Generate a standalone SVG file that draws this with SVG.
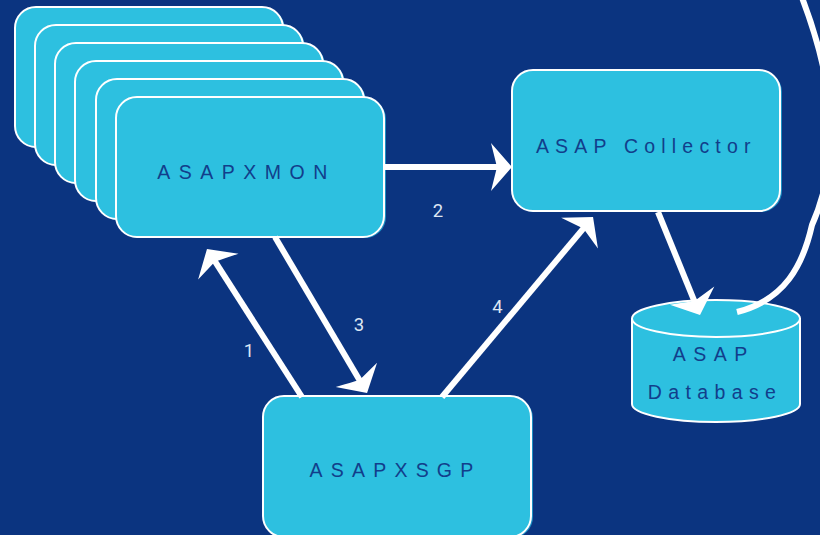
<svg xmlns="http://www.w3.org/2000/svg" width="820" height="535" viewBox="0 0 820 535">
  <defs>
    <style>
      .box { fill: #2dc0e0; stroke: #ffffff; stroke-width: 2; }
      .edge { fill: #1b8fc4; }
      .label { font-family: "Liberation Sans", Arial, sans-serif; font-size: 19.5px; fill: #123e8b; text-anchor: middle; }
      .num { font-family: Roboto, "Liberation Sans", sans-serif; font-size: 18.5px; fill: #dde6f3; text-anchor: middle; }
      .conn { fill: none; stroke: #ffffff; stroke-width: 6; stroke-linecap: butt; }
    </style>
    <marker id="head" markerUnits="userSpaceOnUse" viewBox="-16 -26 26 52" refX="0" refY="0" markerWidth="26" markerHeight="52" orient="auto">
      <path d="M8,0 L-13,-24 Q-9,-8 -7,0 Q-9,8 -13,24 Z" fill="#ffffff"/>
    </marker>
  </defs>

  <rect x="0" y="0" width="820" height="535" fill="#0b3480"/>

  <!-- stacked monitor processes -->
  <g id="asapxmon">
    <rect class="edge" x="17" y="8" width="268" height="140" rx="21"/>
    <rect class="box" x="15" y="7" width="268" height="140" rx="21"/>
    <rect class="edge" x="37" y="26" width="268" height="140" rx="21"/>
    <rect class="box" x="35" y="25" width="268" height="140" rx="21"/>
    <rect class="edge" x="57" y="44" width="268" height="140" rx="21"/>
    <rect class="box" x="55" y="43" width="268" height="140" rx="21"/>
    <rect class="edge" x="77" y="62" width="268" height="140" rx="21"/>
    <rect class="box" x="75" y="61" width="268" height="140" rx="21"/>
    <rect class="edge" x="98" y="80" width="268" height="140" rx="21"/>
    <rect class="box" x="96" y="79" width="268" height="140" rx="21"/>
    <rect class="edge" x="118" y="98" width="268" height="140" rx="21"/>
    <rect class="box" x="116" y="97" width="268" height="140" rx="21"/>
    <text class="label" x="246.5" y="179" letter-spacing="8.5">ASAPXMON</text>
  </g>

  <!-- collector -->
  <g id="collector">
    <rect class="edge" x="514" y="71" width="268" height="141" rx="21"/>
    <rect class="box" x="512" y="70" width="268" height="141" rx="21"/>
    <text class="label" x="646.3" y="153" letter-spacing="6.2">ASAP Collector</text>
  </g>

  <!-- SGP process -->
  <g id="asapxsgp">
    <rect class="edge" x="265" y="397" width="268" height="141" rx="21"/>
    <rect class="box" x="263" y="396" width="268" height="141" rx="21"/>
    <text class="label" x="395.5" y="477" letter-spacing="8.2">ASAPXSGP</text>
  </g>

  <!-- database cylinder -->
  <g id="database">
    <path class="box" d="M632,318.5 A84,18.5 0 0 1 800,318.5 L800,404 A84,18 0 0 1 632,404 Z"/>
    <path d="M632,318.5 A84,18.5 0 0 0 800,318.5" fill="none" stroke="#ffffff" stroke-width="2"/>
    <text class="label" x="713.8" y="361" letter-spacing="7.5">ASAP</text>
    <text class="label" x="715" y="399" letter-spacing="6.4">Database</text>
  </g>

  <!-- connectors -->
  <g id="connectors">
    <line class="conn" x1="385" y1="167" x2="504" y2="167" marker-end="url(#head)"/>
    <line class="conn" x1="302" y1="397" x2="211.3" y2="255.7" marker-end="url(#head)"/>
    <line class="conn" x1="275" y1="237" x2="363" y2="386.1" marker-end="url(#head)"/>
    <line class="conn" x1="442" y1="397" x2="587.9" y2="223.1" marker-end="url(#head)"/>
    <line class="conn" x1="658" y1="212" x2="697" y2="307.6" marker-end="url(#head)"/>
    <path class="conn" d="M801,-5 C830,70 845,150 812,225 C803,265 785,300 737,312"/>
    <text class="num" x="249" y="357">1</text>
    <text class="num" x="438" y="217">2</text>
    <text class="num" x="359" y="331">3</text>
    <text class="num" x="497.5" y="313">4</text>
  </g>
</svg>
